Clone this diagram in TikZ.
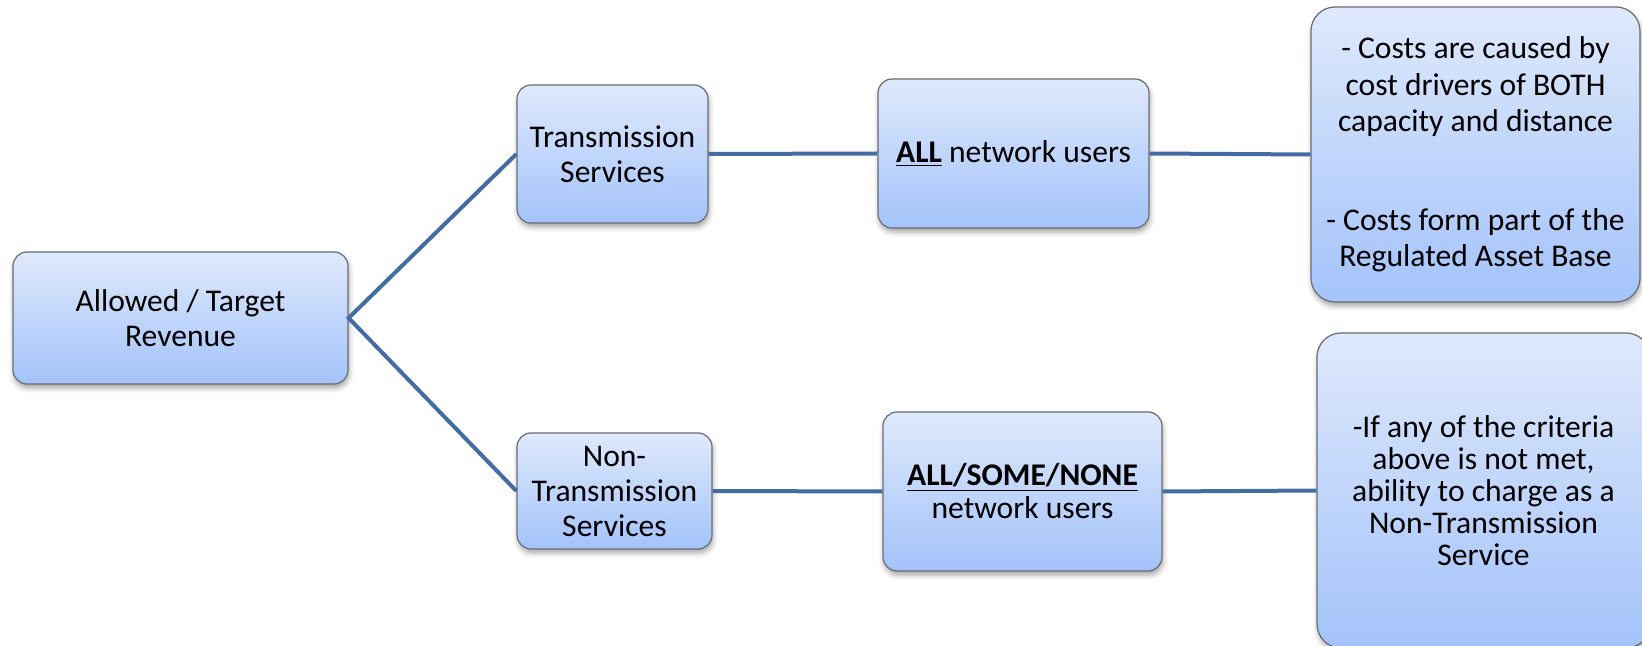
\documentclass[tikz,border=0pt]{standalone}
\usepackage{fontspec}
\setmainfont{Carlito}
\usetikzlibrary{shadows.blur}

\definecolor{linkblue}{RGB}{68,108,164}
\definecolor{boxtop}{RGB}{223,233,252}
\definecolor{boxbottom}{RGB}{163,195,250}
\definecolor{boxedge}{RGB}{105,108,115}

\begin{document}
\begin{tikzpicture}[x=0.5pt,y=-0.5pt,
  box/.style={draw=boxedge, line width=0.6pt, top color=boxtop, bottom color=boxbottom,
    rounded corners=7pt, inner sep=0pt, align=center, text=black,
    font=\fontsize{15.8}{17.5}\selectfont,
    blur shadow={shadow xshift=0.5pt, shadow yshift=-2pt, shadow blur radius=2.5pt, shadow opacity=35}},
  bigbox/.style={box, rounded corners=12pt},
  link/.style={draw=linkblue, line width=2pt, line join=miter}]
\useasboundingbox (0,0) rectangle (1642,646);
\clip (0,0) rectangle (1642,646);

% revenue split
\node[box, minimum width=167.5pt, minimum height=66pt] (rev) at (180.5,318)
  {Allowed / Target\\Revenue};

% upper branch
\node[box, minimum width=95.5pt, minimum height=69pt] (ts) at (612.5,154)
  {Transmission\\Services};
\node[box, minimum width=135.5pt, minimum height=74.5pt] (all) at (1013.5,153.5)
  {\underline{\textbf{ALL}} network users};
\node[bigbox, minimum width=164.5pt, minimum height=147.5pt, font=\fontsize{15.8}{18.2}\selectfont] (costs) at (1475.5,154.5)
  {- Costs are caused by\\cost drivers of BOTH\\capacity and distance\\[31pt]- Costs form part of the\\Regulated Asset Base};

% lower branch
\node[box, minimum width=97.5pt, minimum height=58pt] (nts) at (614.5,491)
  {Non-\\Transmission\\Services};
\node[box, minimum width=139.5pt, minimum height=79.5pt, font=\fontsize{15.8}{16.5}\selectfont] (some) at (1022.5,491.5)
  {\underline{\textbf{ALL/SOME/NONE}}\\network users};
\node[bigbox, minimum width=166.5pt, minimum height=157.5pt, font=\fontsize{15.8}{16}\selectfont] (crit) at (1483.5,490.5)
  {-If any of the criteria\\above is not met,\\ability to charge as a\\Non-Transmission\\Service};

% connectors
\draw[link] (ts.west) -- (rev.east) -- (nts.west);
\draw[link] (ts.east) -- (all.west);
\draw[link] (all.east) -- (costs.west);
\draw[link] (nts.east) -- (some.west);
\draw[link] (some.east) -- (crit.west);
\end{tikzpicture}
\end{document}
